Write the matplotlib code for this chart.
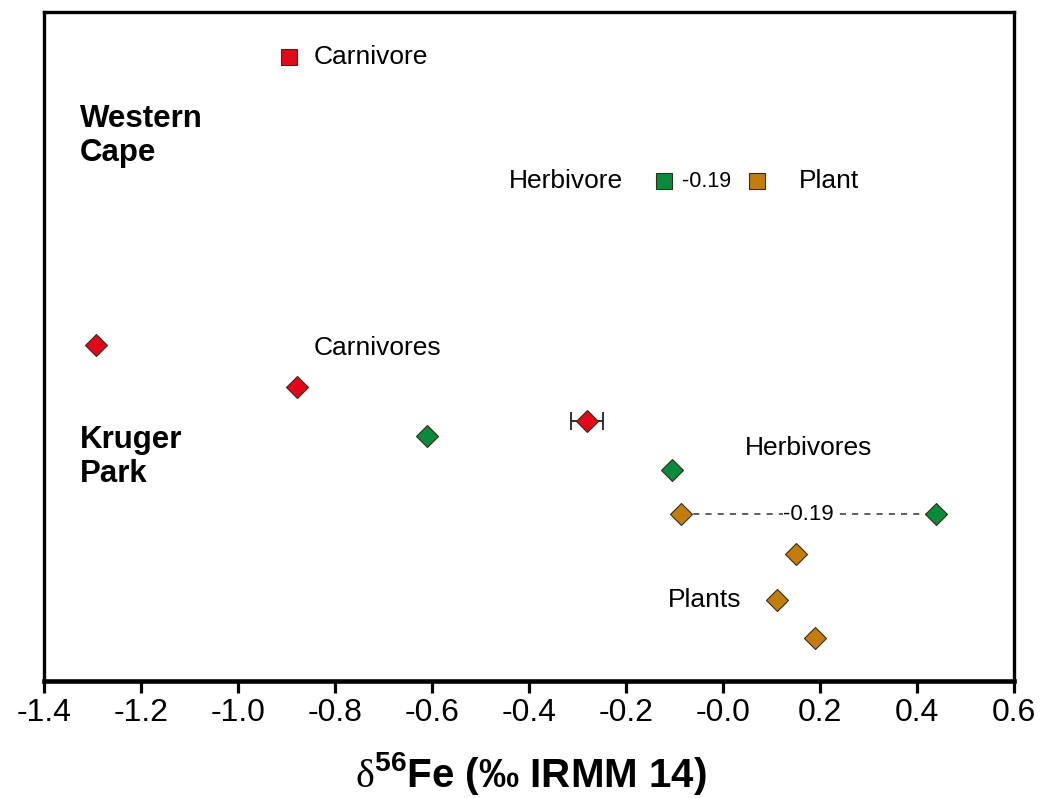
import matplotlib
matplotlib.use("Agg")
import matplotlib.pyplot as plt

plt.rcParams['font.family'] = ['Liberation Sans', 'DejaVu Sans']
plt.rcParams['mathtext.fontset'] = 'custom'
plt.rcParams['mathtext.rm'] = 'Liberation Serif'
plt.rcParams['mathtext.bf'] = 'Liberation Sans:bold'

# delta56Fe values; y is just a row position (no physical meaning)
wc_labels = ['Carnivore', 'Herbivore', 'Plant']
wc_x = [-0.895, -0.122, 0.070]
wc_y = [624, 500, 500]

kp_carn_x = [-1.293, -0.878, -0.280]
kp_carn_y = [336, 294, 260]
kp_carn_err = [0.0, 0.0, 0.033]

kp_herb_x = [-0.610, -0.105, 0.439]
kp_herb_y = [245, 211, 167]

kp_plant_x = [-0.087, 0.150, 0.111, 0.190]
kp_plant_y = [167, 127, 81, 43]

diff_wc = -0.19
diff_kp = -0.19

xticks = [-1.4, -1.2, -1.0, -0.8, -0.6, -0.4, -0.2, 0.0, 0.2, 0.4, 0.6]
xticklabels = ['-1.4', '-1.2', '-1.0', '-0.8', '-0.6', '-0.4', '-0.2', '-0.0', '0.2', '0.4', '0.6']

red = '#e2081c'
green = '#0b8a3b'
brown = '#c27d0c'
edge = '#3a2a1a'

fig = plt.figure(figsize=(10.42, 7.98), dpi=100)
ax = fig.add_axes([0.0422, 0.1466, 0.9309, 0.8383])

# Western Cape (squares)
wc_cols = [red, green, brown]
for x, y, c in zip(wc_x, wc_y, wc_cols):
    ax.plot(x, y, 's', ms=12, mfc=c, mec=edge, mew=0.8, zorder=5)

# Kruger Park (diamonds)
ax.errorbar(kp_carn_x[2], kp_carn_y[2], xerr=kp_carn_err[2], fmt='none',
            ecolor='#222222', elinewidth=1.3, capsize=6.5, capthick=1.3, zorder=4)
ax.plot(kp_carn_x, kp_carn_y, 'D', ms=11.5, mfc=red, mec=edge, mew=0.8, ls='none', zorder=5)
ax.plot(kp_herb_x, kp_herb_y, 'D', ms=11.5, mfc=green, mec=edge, mew=0.8, ls='none', zorder=5)
ax.plot(kp_plant_x, kp_plant_y, 'D', ms=11.5, mfc=brown, mec=edge, mew=0.8, ls='none', zorder=5)

# dashed link between paired plant and herbivore
ax.plot([kp_plant_x[0], kp_herb_x[2]], [kp_plant_y[0], kp_herb_y[2]],
        ls=(0, (4, 4)), color='#333333', lw=1.1, zorder=2)
ax.text((kp_plant_x[0] + kp_herb_x[2]) / 2, kp_plant_y[0], f'{diff_kp:.2f}',
        fontsize=16, ha='center', va='center', zorder=3,
        bbox=dict(fc='white', ec='none', pad=0))

# labels
ax.text(-0.843, 624, wc_labels[0], fontsize=19, va='center')
ax.text(-0.441, 500, wc_labels[1], fontsize=19, va='center')
ax.text(-0.085, 500, f'{diff_wc:.2f}', fontsize=15.5, va='center')
ax.text(0.157, 500, wc_labels[2], fontsize=19, va='center')
ax.text(-0.843, 333, 'Carnivores', fontsize=19, va='center')
ax.text(0.045, 233, 'Herbivores', fontsize=19, va='center')
ax.text(-0.113, 81, 'Plants', fontsize=19, va='center')

ax.text(-1.326, 545, 'Western\nCape', fontsize=22.5, fontweight='bold',
        va='center', linespacing=1.2)
ax.text(-1.326, 224, 'Kruger\nPark', fontsize=22.5, fontweight='bold',
        va='center', linespacing=1.2)

ax.set_xlim(-1.4, 0.6)
ax.set_ylim(0, 669)
ax.set_yticks([])
ax.set_xticks(xticks)
ax.set_xticklabels(xticklabels)
ax.tick_params(axis='x', direction='out', length=8.5, width=2.3, labelsize=23, pad=4)

for side in ['left', 'top', 'right']:
    ax.spines[side].set_linewidth(2.4)
ax.spines['bottom'].set_linewidth(3.3)

ax.set_xlabel(r'$\mathrm{\delta}^{\mathbf{56}}$Fe (‰ IRMM 14)', fontsize=29, fontweight='bold')
ax.xaxis.set_label_coords(0.502, -0.138)
ax.xaxis.label.set_va('center')

fig.savefig('out.png', dpi=100)
